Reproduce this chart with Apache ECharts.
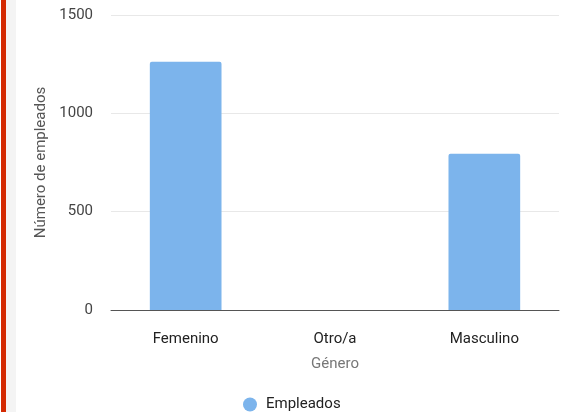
<!DOCTYPE html>
<html><head><meta charset="utf-8">
<script src="https://cdn.jsdelivr.net/npm/echarts@6/dist/echarts.min.js"></script>
<style>html,body{margin:0;padding:0;background:#fff}#c{width:562px;height:412px}</style>
</head><body><div id="c"></div>
<script>
const categories = ['Femenino', 'Otro/a', 'Masculino'];
const empleados = [1262, 0, 795];
const yTicks = [0, 500, 1000, 1500];

const chart = echarts.init(document.getElementById('c'), null, {renderer: 'canvas'});
chart.setOption({
  animation: false,
  textStyle: {fontFamily: 'Roboto'},
  graphic: [
    {type: 'rect', left: 1, top: 0, shape: {width: 5, height: 412}, style: {fill: '#d42a02'}, z: 10},
    {type: 'rect', left: 6, top: 0, shape: {width: 10, height: 412}, style: {fill: '#f4f4f4'}, z: 10}
  ],
  grid: {left: 111, right: 3, top: 15, bottom: 102, containLabel: false},
  legend: {
    top: 392, left: 238, icon: 'circle', itemWidth: 14, itemHeight: 14, itemGap: 10,
    textStyle: {fontSize: 15, color: '#222', fontFamily: 'Roboto', padding: [0, 0, 0, 4]},
    data: ['Empleados']
  },
  xAxis: {
    type: 'category', data: categories,
    name: 'Género', nameLocation: 'middle', nameGap: 47,
    nameTextStyle: {fontSize: 15, color: '#777', fontFamily: 'Roboto'},
    axisLine: {lineStyle: {color: '#555', width: 1}},
    axisTick: {show: false},
    axisLabel: {fontSize: 15, color: '#222', margin: 22, fontFamily: 'Roboto'}
  },
  yAxis: {
    type: 'value', min: yTicks[0], max: yTicks[yTicks.length - 1], interval: 500,
    name: 'Número de empleados', nameLocation: 'middle', nameGap: 61,
    nameTextStyle: {fontSize: 15, color: '#555', fontFamily: 'Roboto'},
    axisLine: {show: false}, axisTick: {show: false},
    axisLabel: {fontSize: 15, color: '#444', margin: 18, fontFamily: 'Roboto', formatter: v => String(v)},
    splitLine: {lineStyle: {color: '#e8e8e8', width: 1}}
  },
  series: [{
    name: 'Empleados', type: 'bar', data: empleados, barWidth: '48%',
    itemStyle: {color: '#7cb4ec', borderRadius: [2, 2, 0, 0]}
  }]
});
</script></body></html>
